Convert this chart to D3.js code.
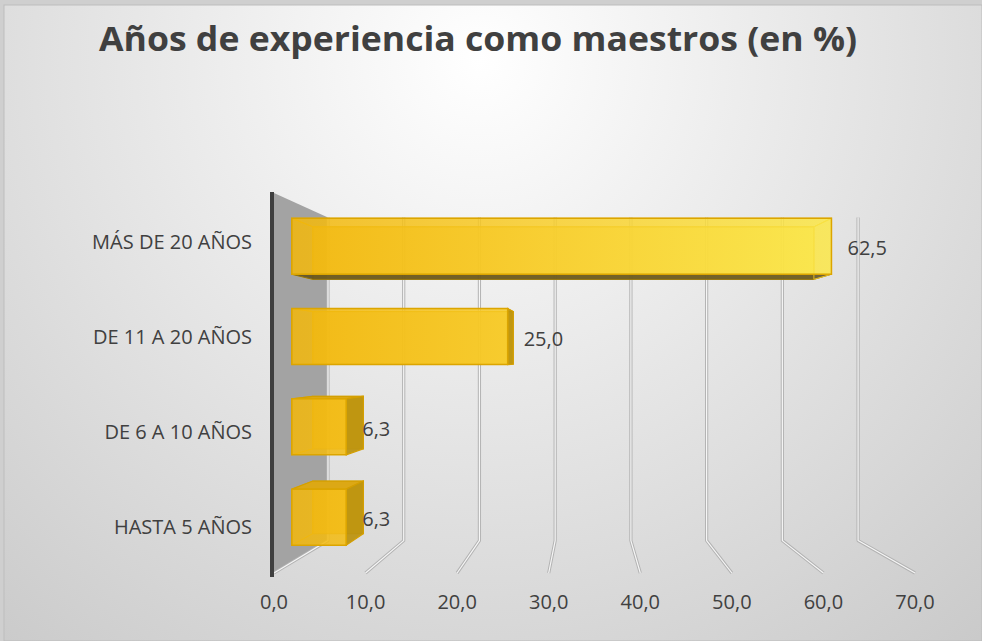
<!DOCTYPE html>
<html>
<head>
<meta charset="utf-8">
<script src="https://cdn.jsdelivr.net/npm/d3@7"></script>
<style>
  html, body { margin: 0; padding: 0; background: #cfcfcf; }
  svg { display: block; }
</style>
</head>
<body>
<svg id="chart"></svg>
<script>
const categories = ['MÁS DE 20 AÑOS', 'DE 11 A 20 AÑOS', 'DE 6 A 10 AÑOS', 'HASTA 5 AÑOS']
const values = [62.5, 25.0, 6.3, 6.3]
const tickValues = [0, 10, 20, 30, 40, 50, 60, 70]
const title = 'Años de experiencia como maestros (en %)'

const W = 982
const H = 641
const textColor = '#404040'
const fontFamily = '"Open Sans", "Noto Sans", sans-serif'

const locale = d3.formatLocale({ decimal: ',', thousands: '.', grouping: [3], currency: ['', ''] })
const fmt = locale.format('.1f')

// front plane scales (depth 0), everything else is projected back from here
const x = d3.scaleLinear().domain([0, 70]).range([274, 915])
const y = d3.scaleBand().domain(categories).range([193, 573]).paddingInner(0.38).paddingOuter(0.19)

// simple fake perspective: points move toward a vanishing point as depth grows
const vp = { x: 586, y: 357 }
const shrink = { x: 0.827, y: 0.85 }
const proj = (xf, yf, d) => [
  xf + d * (1 - shrink.x) * (vp.x - xf),
  yf + d * (1 - shrink.y) * (vp.y - yf)
]
const barDepth = [0.33, 0.72]

const svg = d3.select('#chart').attr('width', W).attr('height', H)
const defs = svg.append('defs')

const bg = defs.append('radialGradient').attr('id', 'bg')
  .attr('gradientUnits', 'userSpaceOnUse')
  .attr('cx', 480).attr('cy', 60).attr('r', 880)
bg.append('stop').attr('offset', 0).attr('stop-color', '#ffffff')
bg.append('stop').attr('offset', 1).attr('stop-color', '#c2c2c2')

const barGrad = defs.append('linearGradient').attr('id', 'barGrad')
  .attr('gradientUnits', 'userSpaceOnUse')
  .attr('x1', 290).attr('x2', 840).attr('y1', 0).attr('y2', 0)
barGrad.append('stop').attr('offset', 0).attr('stop-color', '#f2b70c')
barGrad.append('stop').attr('offset', 0.45).attr('stop-color', '#f8cd2a')
barGrad.append('stop').attr('offset', 1).attr('stop-color', '#fbe84a')

// chart area
svg.append('rect')
  .attr('x', 4).attr('y', 5).attr('width', W - 4).attr('height', H - 5)
  .attr('fill', 'url(#bg)')
  .attr('stroke', '#bdbdbd')

// title
svg.append('text')
  .attr('x', 478)
  .attr('y', 51)
  .attr('text-anchor', 'middle')
  .attr('textLength', 758)
  .attr('lengthAdjust', 'spacingAndGlyphs')
  .style('font-family', fontFamily)
  .style('font-size', '34px')
  .style('font-weight', 'bold')
  .style('fill', textColor)
  .text(title)

const plotTop = y.range()[0]
const plotBottom = y.range()[1]
const line = d3.line()

// left side wall
const wall = [proj(x(0), plotTop, 0), proj(x(0), plotTop, 1), proj(x(0), plotBottom, 1), proj(x(0), plotBottom, 0)]
svg.append('path')
  .attr('d', line(wall) + 'Z')
  .attr('fill', '#a3a3a3')

// gridlines: up the back wall, then across the floor to the front
const grid = svg.append('g')
tickValues.forEach((t) => {
  const pts = [proj(x(t), plotTop, 1), proj(x(t), plotBottom, 1), proj(x(t), plotBottom, 0)]
  grid.append('path').attr('d', line(pts)).attr('fill', 'none')
    .attr('stroke', '#b3b3b3').attr('stroke-width', 3.2).attr('stroke-linejoin', 'round')
  grid.append('path').attr('d', line(pts)).attr('fill', 'none')
    .attr('stroke', '#f6f6f6').attr('stroke-width', 1.2).attr('stroke-linejoin', 'round')
})

// axis line
svg.append('line')
  .attr('x1', x(0) - 2).attr('x2', x(0) - 2)
  .attr('y1', plotTop - 1).attr('y2', plotBottom + 4)
  .attr('stroke', '#3f3f3f')
  .attr('stroke-width', 4)

// bars as translucent boxes
const bars = svg.append('g')
categories.forEach((c, i) => {
  const v = values[i]
  const x0 = x(0)
  const x1 = x(v)
  const y0 = y(c)
  const y1 = y(c) + y.bandwidth()
  const [d0, d1] = barDepth
  const f = [proj(x0, y0, d0), proj(x1, y0, d0), proj(x1, y1, d0), proj(x0, y1, d0)]
  const b = [proj(x0, y0, d1), proj(x1, y0, d1), proj(x1, y1, d1), proj(x0, y1, d1)]
  const g = bars.append('g')

  g.append('path').attr('d', line(b) + 'Z')
    .attr('fill', 'url(#barGrad)').attr('opacity', 0.7)
    .attr('stroke', '#d9a300').attr('stroke-width', 1.2)

  const topFace = [f[0], f[1], b[1], b[0]]
  const bottomFace = [f[3], f[2], b[2], b[3]]
  const rightFace = [f[1], f[2], b[2], b[1]]
  const leftFace = [f[0], f[3], b[3], b[0]]

  // hidden edges
  g.append('path').attr('d', line(leftFace) + 'Z')
    .attr('fill', 'none').attr('stroke', '#e3ad00').attr('stroke-width', 1)
  if (y0 > vp.y) {
    g.append('path').attr('d', line(topFace) + 'Z')
      .attr('fill', '#dca815').attr('stroke', '#d49f00').attr('stroke-width', 1.2)
  } else {
    g.append('path').attr('d', line(topFace) + 'Z')
      .attr('fill', 'none').attr('stroke', '#e3ad00').attr('stroke-width', 1)
  }
  if (y1 < vp.y) {
    g.append('path').attr('d', line(bottomFace) + 'Z')
      .attr('fill', '#5c4c1c').attr('fill-opacity', 0.85)
      .attr('stroke', '#8f7210').attr('stroke-width', 1)
  }
  if (x1 < vp.x) {
    g.append('path').attr('d', line(rightFace) + 'Z')
      .attr('fill', '#bb910c').attr('fill-opacity', 0.92)
      .attr('stroke', '#d49f00').attr('stroke-width', 1.2)
  } else {
    g.append('path').attr('d', line(rightFace) + 'Z')
      .attr('fill', 'none').attr('stroke', '#e8c020').attr('stroke-width', 1)
  }

  g.append('path').attr('d', line(f) + 'Z')
    .attr('fill', 'url(#barGrad)').attr('fill-opacity', 0.86)
    .attr('stroke', '#dca500').attr('stroke-width', 1.5)

  // value label
  svg.append('text')
    .attr('x', f[1][0] + 16)
    .attr('y', (f[1][1] + f[2][1]) / 2 + 9)
    .style('font-family', fontFamily)
    .style('font-size', '20px')
    .style('fill', textColor)
    .text(fmt(v))
})

// category labels
svg.append('g').selectAll('text')
  .data(categories)
  .join('text')
  .attr('x', x(0) - 22)
  .attr('y', (d) => y(d) + y.bandwidth() / 2 + 8)
  .attr('text-anchor', 'end')
  .style('font-family', fontFamily)
  .style('font-size', '20px')
  .style('fill', textColor)
  .text((d) => d)

// value axis labels
svg.append('g').selectAll('text')
  .data(tickValues)
  .join('text')
  .attr('x', (d) => x(d))
  .attr('y', 609)
  .attr('text-anchor', 'middle')
  .style('font-family', fontFamily)
  .style('font-size', '20px')
  .style('fill', textColor)
  .text((d) => fmt(d))
</script>
</body>
</html>
